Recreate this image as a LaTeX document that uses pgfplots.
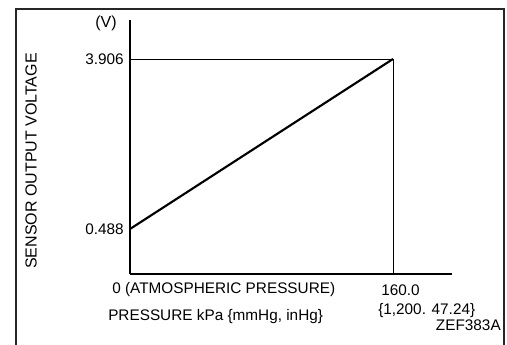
\documentclass[border=0pt]{standalone}
\usepackage{pgfplots}
\pgfplotsset{compat=1.18}
\usepackage{fontspec}
\setmainfont{Liberation Sans}
\begin{document}
\fontsize{11.5}{13}\selectfont
\begin{tikzpicture}
\useasboundingbox (0,0) rectangle (380.25pt,-258pt);
\begin{axis}[
  scale only axis,
  width=241.5pt, height=190.5pt,
  at={(97.5pt,-205.5pt)}, anchor=south west,
  xmin=0, xmax=195.9, ymin=-0.4168, ymax=4.690,
  axis x line*=bottom, axis y line*=left,
  axis line style={-, line width=0.8pt, black},
  ticks=none,
  clip=false,
]
\addplot[black, line width=0.7pt] coordinates {(0,3.906) (160,3.906)};
\addplot[black, line width=0.7pt] coordinates {(160,-0.4168) (160,3.906)};
\addplot[black, line width=1.6pt] coordinates {(0,0.488) (160,3.906)};
\end{axis}
\begin{scope}[x=0.75pt, y=-0.75pt]
\draw[black!85, line width=1.3pt] (16,360) -- (16,9) -- (504,9) -- (504,360);
\node[anchor=center] at (106,23) {\fontsize{12}{13}\selectfont (V)};
\node[anchor=east, inner sep=0pt] at (124,59) {3.906};
\node[anchor=east, inner sep=0pt] at (124,229) {0.488};
\node[rotate=90, anchor=center, inner sep=0pt] at (31,161) {\fontsize{12}{13}\selectfont SENSOR OUTPUT VOLTAGE};
\node[anchor=west, inner sep=0pt] at (112,290) {0 (ATMOSPHERIC PRESSURE)};
\node[anchor=west, inner sep=0pt] at (108,317) {PRESSURE kPa \{mmHg, inHg\}};
\node[anchor=west, inner sep=0pt] at (381,290) {160.0};
\node[anchor=west, inner sep=0pt] at (378,311) {\{1,200. 47.24\}};
\node[anchor=east, inner sep=0pt] at (501,325) {ZEF383A};
\end{scope}
\end{tikzpicture}
\end{document}
